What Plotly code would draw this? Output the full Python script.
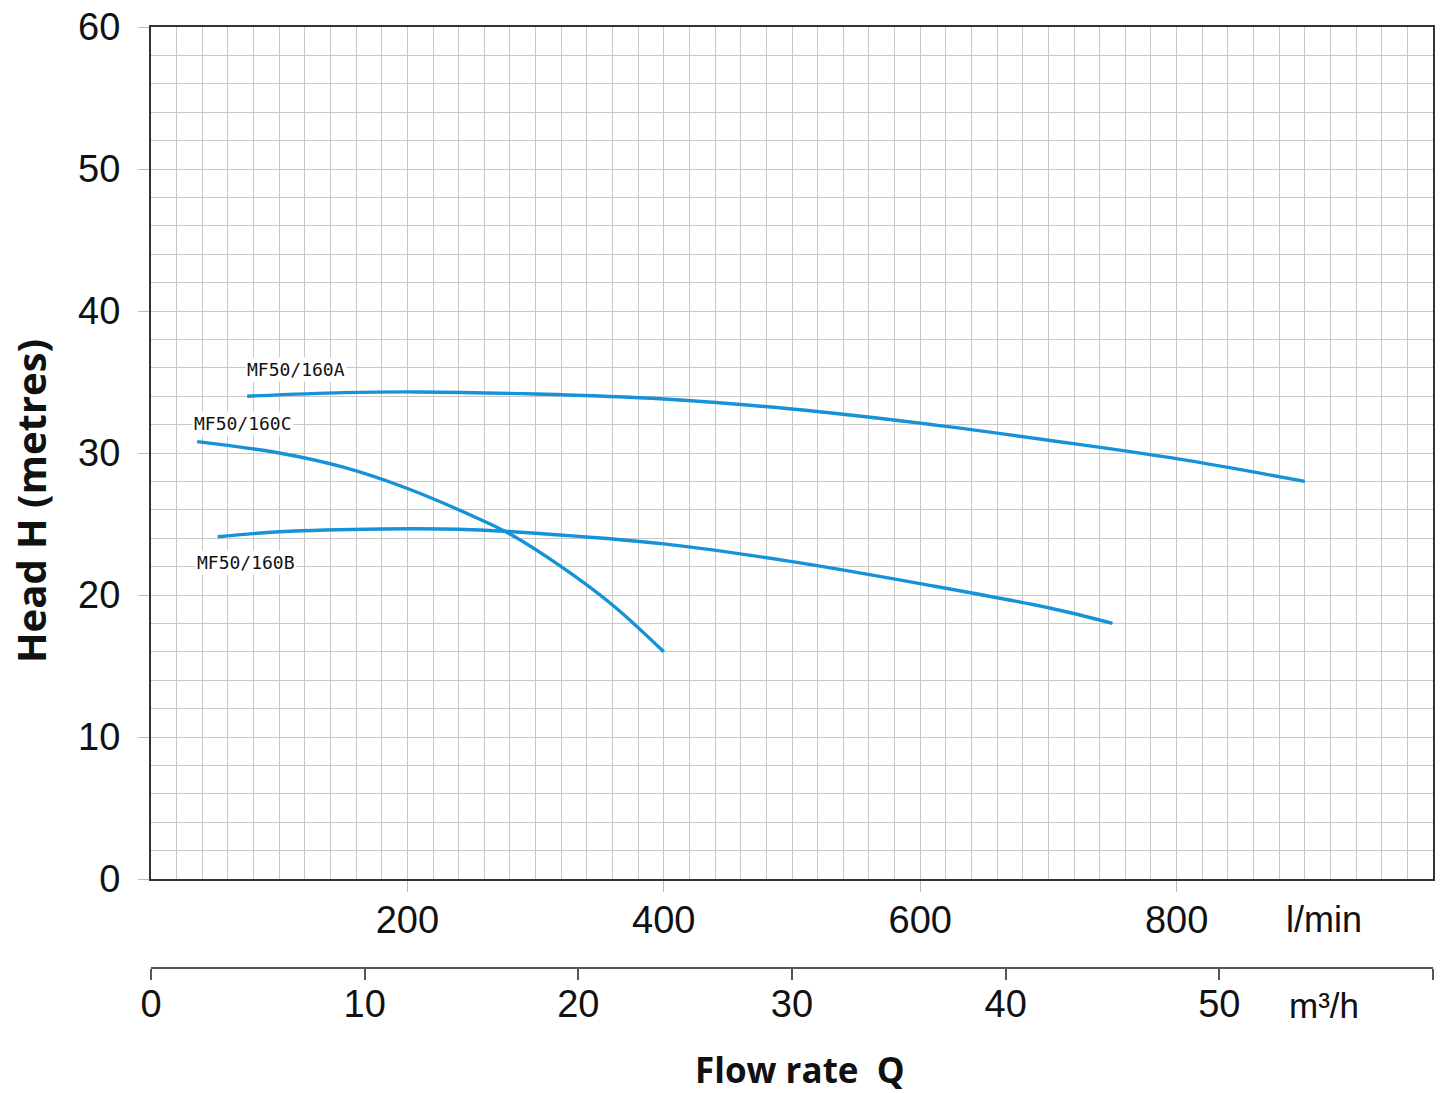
import plotly.graph_objects as go

# Data (flow in l/min, head in metres)
a_q = [75, 150, 210, 300, 400, 500, 600, 700, 800, 900]
a_h = [34.0, 34.25, 34.3, 34.15, 33.8, 33.1, 32.1, 30.9, 29.6, 28.0]

c_q = [36, 100, 150, 200, 250, 280, 320, 360, 400]
c_h = [30.8, 30.0, 29.0, 27.5, 25.6, 24.3, 22.0, 19.3, 16.0]

b_q = [52, 100, 180, 250, 300, 400, 500, 600, 700, 750]
b_h = [24.1, 24.45, 24.65, 24.6, 24.35, 23.6, 22.35, 20.8, 19.1, 18.0]

series_names = ["MF50/160A", "MF50/160C", "MF50/160B"]
label_pos = [(113, 35.85), (72, 32.05), (74, 22.3)]

lmin_ticks = [200, 400, 600, 800]
m3h_ticks = [0, 10, 20, 30, 40, 50]
head_ticks = [0, 10, 20, 30, 40, 50, 60]

LINE = "#1592d8"
GRID = "#c8c8c8"
TICKFONT = dict(family="Liberation Sans, Arial, sans-serif", size=38, color="#111")

fig = go.Figure()
for q, h, n in [(a_q, a_h, series_names[0]), (c_q, c_h, series_names[1]), (b_q, b_h, series_names[2])]:
    fig.add_trace(go.Scatter(x=q, y=h, mode="lines", name=n,
                             line=dict(color=LINE, width=3.4, shape="spline", smoothing=1.0),
                             showlegend=False))

# dummy trace for the m3/h axis
fig.add_trace(go.Scatter(x=[0, 60], y=[None, None], xaxis="x2", mode="markers",
                         showlegend=False, hoverinfo="skip"))

H = 1093
t, b = 27, 125
paper_h = H - t - b
ydom0 = (968 - 879) / paper_h


def py(pix):
    return (968 - pix) / paper_h


def px(pix):
    return (pix - 151) / 1282


fig.update_layout(
    width=1442, height=H,
    margin=dict(l=151, r=9, t=t, b=b, autoexpand=False),
    paper_bgcolor="white", plot_bgcolor="white",
    xaxis=dict(range=[0, 1000], tickvals=lmin_ticks,
               showgrid=True, gridcolor=GRID, gridwidth=1,
               minor=dict(dtick=20, showgrid=True, gridcolor=GRID, gridwidth=1),
               ticks="outside", ticklen=11, tickcolor="#bbbbbb", tickwidth=1,
               showline=True, linecolor="#333333", linewidth=2, mirror=True,
               tickfont=TICKFONT, ticklabelstandoff=-5, zeroline=False),
    xaxis2=dict(range=[0, 60], overlaying="x", anchor="free", position=0, side="bottom",
                tickvals=m3h_ticks, showgrid=False, zeroline=False,
                ticks="outside", ticklen=11, tickcolor="#555555", tickwidth=1.5,
                minor=dict(tickvals=[60], ticks="outside", ticklen=11, tickcolor="#555555", tickwidth=1.5),
                showline=True, linecolor="#555555", linewidth=1.5,
                tickfont=TICKFONT, ticklabelstandoff=-8),
    yaxis=dict(range=[0, 60], domain=[ydom0, 1], tickvals=head_ticks,
               showgrid=True, gridcolor=GRID, gridwidth=1,
               minor=dict(dtick=2, showgrid=True, gridcolor=GRID, gridwidth=1),
               ticks="outside", ticklen=11, tickcolor="#bbbbbb", tickwidth=1,
               showline=True, linecolor="#333333", linewidth=2, mirror=True,
               tickfont=TICKFONT, ticklabelstandoff=10, zeroline=False),
)

annotations = []
for n, (x, y) in zip(series_names, label_pos):
    annotations.append(dict(x=x, y=y, xref="x", yref="y", text=n, showarrow=False,
                            font=dict(family="DejaVu Sans Mono, monospace", size=18, color="#111"),
                            bgcolor="white", xanchor="center", yanchor="middle"))

annotations += [
    dict(x=px(1324), y=py(919), xref="paper", yref="paper",
         text="l/min", showarrow=False, font=dict(family="Liberation Sans, Arial", size=36, color="#111"),
         xanchor="center", yanchor="middle"),
    dict(x=px(1324), y=py(1006), xref="paper", yref="paper",
         text="m³/h", showarrow=False, font=dict(family="Liberation Sans, Arial", size=35, color="#111"),
         xanchor="center", yanchor="middle"),
    dict(x=px(800), y=py(1069), xref="paper", yref="paper",
         text="<b>Flow rate  Q</b>", showarrow=False, font=dict(family="Open Sans", size=35, color="#111"),
         xanchor="center", yanchor="middle"),
    dict(x=px(30), y=py(501), xref="paper", yref="paper",
         text="<b>Head H (metres)</b>", showarrow=False, textangle=-90,
         font=dict(family="Open Sans", size=40, color="#111"),
         xanchor="center", yanchor="middle"),
]
fig.update_layout(annotations=annotations)

fig.write_html("out.html", config={"displayModeBar": False},
               post_script="document.body.style.margin='0';document.body.style.overflow='hidden';")
